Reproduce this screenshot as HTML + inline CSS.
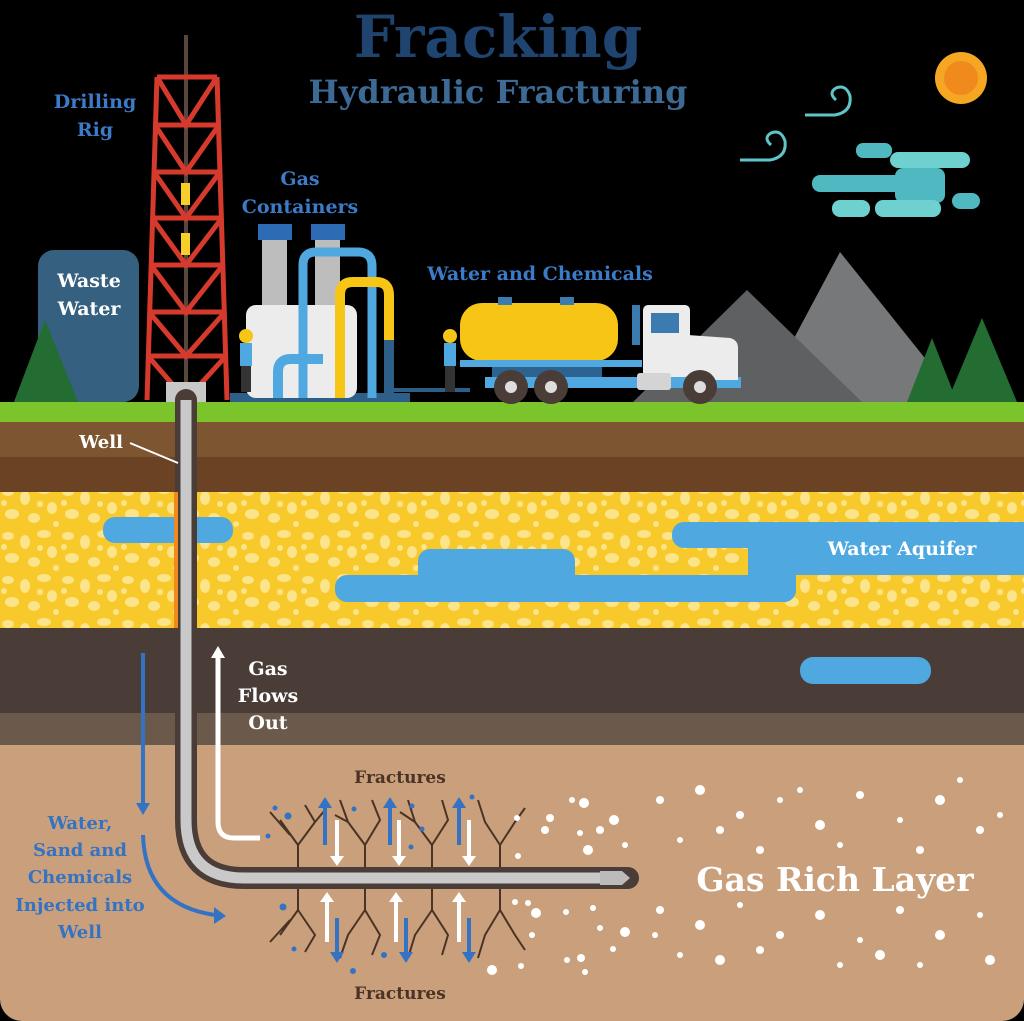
<!DOCTYPE html>
<html><head><meta charset="utf-8"><style>
html,body{margin:0;padding:0;background:#000}
svg{display:block}
text{font-family:"DejaVu Serif","Liberation Serif",serif;font-weight:bold}
</style></head><body>
<svg width="1024" height="1021" viewBox="0 0 1024 1021" xmlns="http://www.w3.org/2000/svg">
<defs>
<pattern id="peb" width="60" height="44" patternUnits="userSpaceOnUse">
<rect width="60" height="44" fill="#f7c92b"/>
<ellipse cx="8" cy="8" rx="6" ry="4" fill="#fbe48a"/>
<ellipse cx="25" cy="14" rx="5" ry="7" fill="#fbe48a"/>
<ellipse cx="44" cy="6" rx="7" ry="4" fill="#fbe48a"/>
<ellipse cx="52" cy="24" rx="5" ry="6" fill="#fbe48a"/>
<ellipse cx="12" cy="30" rx="7" ry="5" fill="#fbe48a"/>
<ellipse cx="34" cy="34" rx="6" ry="5" fill="#fbe48a"/>
<ellipse cx="40" cy="20" rx="3" ry="3" fill="#fbe48a"/>
<ellipse cx="4" cy="19" rx="3" ry="3" fill="#fbe48a"/>
<ellipse cx="56" cy="40" rx="3" ry="3" fill="#fbe48a"/>
</pattern>
<clipPath id="pg"><rect x="0" y="0" width="1024" height="1021" rx="22"/></clipPath>
</defs>
<rect width="1024" height="1021" fill="#000"/>
<g clip-path="url(#pg)">
<!-- ground layers -->
<rect x="0" y="402" width="1024" height="20" fill="#7cc42c"/>
<rect x="0" y="422" width="1024" height="35" fill="#7d5530"/>
<rect x="0" y="457" width="1024" height="35" fill="#6b4223"/>
<rect x="0" y="492" width="1024" height="136" fill="url(#peb)"/>
<rect x="0" y="628" width="1024" height="85" fill="#4a3c37"/>
<rect x="0" y="713" width="1024" height="32" fill="#6b5a4c"/>
<rect x="0" y="745" width="1024" height="276" fill="#c9a07b"/>
</g>
<!-- aquifer -->
<g fill="#4fa8e0">
<rect x="103" y="517" width="130" height="26" rx="12"/>
<rect x="335" y="575" width="122" height="27" rx="12"/>
<rect x="418" y="549" width="157" height="53" rx="12"/>
<rect x="506" y="575" width="290" height="27" rx="12"/>
<rect x="748" y="548" width="48" height="54" rx="12"/>
<rect x="748" y="522" width="290" height="53"/>
<rect x="672" y="522" width="360" height="26" rx="12"/>
<rect x="800" y="657" width="131" height="27" rx="13"/>
</g>
<text x="902" y="555" fill="#fff" font-size="19" text-anchor="middle">Water Aquifer</text>

<!-- mountains -->
<polygon points="840,252 960,402 760,402" fill="#77787a"/>
<polygon points="747,290 862,402 633,402" fill="#5f6062"/>
<!-- trees -->
<g fill="#236d33">
<polygon points="932,338 957,402 907,402"/>
<polygon points="982,318 1017,402 947,402"/>
<polygon points="45,320 78,402 14,402"/>
</g>
<!-- sun -->
<circle cx="961" cy="78" r="26" fill="#f5a623"/>
<circle cx="961" cy="78" r="17" fill="#f08a1d"/>
<!-- clouds -->
<g fill="#4fb8c0">
<rect x="856" y="143" width="36" height="15" rx="7"/>
<rect x="812" y="175" width="100" height="17" rx="8"/>
<rect x="890" y="152" width="80" height="16" rx="8" fill="#6fd0d0"/>
<rect x="895" y="168" width="50" height="35" rx="8"/>
<rect x="832" y="200" width="38" height="17" rx="8" fill="#6fd0d0"/>
<rect x="875" y="200" width="66" height="17" rx="8" fill="#6fd0d0"/>
<rect x="952" y="193" width="28" height="16" rx="8"/>
</g>
<g fill="none" stroke="#5ec6c8" stroke-width="3">
<path d="M805,115 L835,115 Q852,112 850,96 Q846,84 836,88 Q828,93 836,100"/>
<path d="M740,160 L770,160 Q787,157 785,141 Q781,129 771,133 Q763,138 771,145"/>
</g>
<!-- titles -->
<text x="498" y="57" fill="#1f4470" font-size="58" text-anchor="middle">Fracking</text>
<text x="498" y="103" fill="#3c6a94" font-size="32" text-anchor="middle">Hydraulic Fracturing</text>
<text x="95" y="108" fill="#3b7bc8" font-size="19" text-anchor="middle">Drilling</text>
<text x="95" y="136" fill="#3b7bc8" font-size="19" text-anchor="middle">Rig</text>
<text x="300" y="185" fill="#3b7bc8" font-size="19" text-anchor="middle">Gas</text>
<text x="300" y="213" fill="#3b7bc8" font-size="19" text-anchor="middle">Containers</text>
<text x="540" y="280" fill="#3b7bc8" font-size="19" text-anchor="middle">Water and Chemicals</text>

<!-- waste water tank -->
<rect x="38" y="250" width="101" height="152" rx="16" fill="#36607f"/>
<polygon points="45,320 78,402 14,402" fill="#236d33"/>
<text x="89" y="287" fill="#fff" font-size="19" text-anchor="middle">Waste</text>
<text x="89" y="315" fill="#fff" font-size="19" text-anchor="middle">Water</text>

<!-- rig -->
<line x1="186" y1="35" x2="186" y2="395" stroke="#5a463c" stroke-width="4"/>
<g stroke="#d63a2c" stroke-width="5" fill="none">
<line x1="157" y1="77" x2="147" y2="400"/>
<line x1="217" y1="77" x2="227" y2="400"/>
<line x1="157" y1="77" x2="217" y2="77"/>
<line x1="155" y1="125" x2="219" y2="125"/>
<line x1="154" y1="172" x2="220" y2="172"/>
<line x1="152" y1="218" x2="222" y2="218"/>
<line x1="151" y1="265" x2="223" y2="265"/>
<line x1="149" y1="312" x2="225" y2="312"/>
<line x1="148" y1="356" x2="226" y2="356"/>
<polyline points="157,77 186,125 217,77"/>
<polyline points="155,125 186,172 219,125"/>
<polyline points="154,172 186,218 220,172"/>
<polyline points="152,218 186,265 222,218"/>
<polyline points="151,265 186,312 223,265"/>
<polyline points="149,312 186,356 225,312"/>
<polyline points="148,356 186,400 226,356"/>
</g>
<rect x="181" y="183" width="9" height="22" fill="#f7cf2b"/>
<rect x="181" y="233" width="9" height="22" fill="#f7cf2b"/>
<rect x="166" y="382" width="40" height="20" fill="#c8c8c8"/>

<!-- gas containers -->
<rect x="230" y="393" width="180" height="9" fill="#2d5f88"/>
<rect x="262" y="240" width="25" height="68" fill="#bdbdbd"/>
<rect x="315" y="240" width="25" height="68" fill="#bdbdbd"/>
<rect x="258" y="224" width="34" height="16" fill="#2d6cb5"/>
<rect x="311" y="224" width="34" height="16" fill="#2d6cb5"/>
<rect x="246" y="305" width="111" height="93" rx="10" fill="#ececec"/>
<path d="M303,398 L303,265 Q303,252 316,252 L358,252 Q372,252 372,266 L372,398" fill="none" stroke="#4fa8e0" stroke-width="9"/>
<path d="M340,398 L340,295 Q340,282 353,282 L376,282 Q389,282 389,295 L389,340" fill="none" stroke="#f7c516" stroke-width="10"/>
<rect x="384" y="340" width="10" height="58" fill="#2d5f88"/>
<path d="M278,398 L278,372 Q278,359 291,359 L323,359" fill="none" stroke="#4fa8e0" stroke-width="10"/>
<line x1="394" y1="390" x2="470" y2="390" stroke="#2d5f88" stroke-width="4"/>
<!-- workers -->
<g>
<circle cx="246" cy="336" r="7" fill="#f7c516"/><rect x="240" y="343" width="12" height="23" fill="#4fa8e0"/><rect x="241" y="366" width="10" height="26" fill="#333"/>
<circle cx="450" cy="336" r="7" fill="#f7c516"/><rect x="444" y="343" width="12" height="23" fill="#4fa8e0"/><rect x="445" y="366" width="10" height="26" fill="#333"/>
</g>
<!-- truck -->
<rect x="460" y="303" width="158" height="58" rx="22" fill="#f7c516"/>
<rect x="498" y="297" width="14" height="8" fill="#3c7bb0"/>
<rect x="560" y="297" width="14" height="8" fill="#3c7bb0"/>
<rect x="460" y="360" width="182" height="7" fill="#4fa8e0"/>
<rect x="492" y="367" width="110" height="12" fill="#2d6390"/>
<rect x="485" y="377" width="256" height="11" fill="#4fa8e0"/>
<rect x="632" y="305" width="8" height="40" fill="#3c7bb0"/>
<rect x="643" y="305" width="47" height="72" rx="5" fill="#ececec"/>
<rect x="651" y="313" width="28" height="20" fill="#3c7bb0"/>
<path d="M688,335 L730,338 Q738,340 738,348 L738,380 L688,380 Z" fill="#ececec"/>
<rect x="637" y="373" width="34" height="17" rx="3" fill="#d4d4d4"/>
<g fill="#4a3c37"><circle cx="511" cy="387" r="17"/><circle cx="551" cy="387" r="17"/><circle cx="700" cy="387" r="17"/></g>
<g fill="#ddd"><circle cx="511" cy="387" r="6"/><circle cx="551" cy="387" r="6"/><circle cx="700" cy="387" r="6"/></g>

<!-- well -->
<path d="M186,400 L186,820 Q186,878 244,878 L628,878" fill="none" stroke="#4a3c37" stroke-width="22" stroke-linecap="round"/>
<path d="M186,400 L186,820 Q186,878 244,878 L612,878" fill="none" stroke="#c9c9c9" stroke-width="11"/>
<line x1="176" y1="492" x2="176" y2="628" stroke="#f08a1d" stroke-width="4"/>
<polygon points="600,871 622,871 630,878 622,885 600,885" fill="#bbb"/>
<text x="101" y="448" fill="#fff" font-size="18" text-anchor="middle">Well</text>
<line x1="130" y1="443" x2="178" y2="463" stroke="#fff" stroke-width="2"/>

<!-- arrows -->
<g fill="none" stroke="#fff" stroke-width="5">
<path d="M218,655 L218,822 Q218,838 234,838 L260,838"/>
</g>
<polygon points="211,658 218,646 225,658" fill="#fff"/>
<text x="268" y="675" fill="#fff" font-size="19" text-anchor="middle">Gas</text>
<text x="268" y="702" fill="#fff" font-size="19" text-anchor="middle">Flows</text>
<text x="268" y="729" fill="#fff" font-size="19" text-anchor="middle">Out</text>
<g fill="none" stroke="#3472c4" stroke-width="4">
<line x1="143" y1="653" x2="143" y2="805"/>
<path d="M143,835 Q145,905 215,915"/>
</g>
<polygon points="136,803 150,803 143,815" fill="#3472c4"/>
<polygon points="214,907 226,916 214,924" fill="#3472c4"/>
<g fill="#3472c4" font-size="18" text-anchor="middle">
<text x="80" y="829">Water,</text>
<text x="80" y="856">Sand and</text>
<text x="80" y="883">Chemicals</text>
<text x="80" y="911">Injected into</text>
<text x="80" y="938">Well</text>
</g>

<!-- fractures -->
<g stroke="#4a3326" stroke-width="2" fill="none">
<path d="M298,867 L298,845 L280,820 M298,845 L315,822 L305,805 M315,822 L325,810 M290,835 L270,812"/>
<path d="M365,867 L365,845 L348,822 L340,800 M365,845 L380,820 L372,800 M348,822 L335,815"/>
<path d="M432,867 L432,845 L415,822 L408,800 M432,845 L448,820 L442,800 M415,822 L400,812"/>
<path d="M500,867 L500,845 L485,822 L478,800 M500,845 L515,822 L525,808"/>
<path d="M298,889 L298,910 L280,935 M298,910 L315,935 L305,952 M290,920 L270,942"/>
<path d="M365,889 L365,910 L348,935 L340,958 M365,910 L380,935 L372,955"/>
<path d="M432,889 L432,910 L415,935 L408,958 M432,910 L448,935 L442,955"/>
<path d="M500,889 L500,910 L485,935 L478,958 M500,910 L515,935 L525,950"/>
</g>
<g stroke-width="4">
<g stroke="#3472c4"><line x1="325" y1="845" x2="325" y2="805"/><line x1="390" y1="845" x2="390" y2="805"/><line x1="459" y1="845" x2="459" y2="805"/>
<line x1="337" y1="918" x2="337" y2="955"/><line x1="406" y1="918" x2="406" y2="955"/><line x1="469" y1="918" x2="469" y2="955"/></g>
<g stroke="#fff"><line x1="337" y1="820" x2="337" y2="858"/><line x1="399" y1="820" x2="399" y2="858"/><line x1="469" y1="820" x2="469" y2="858"/>
<line x1="327" y1="900" x2="327" y2="942"/><line x1="396" y1="900" x2="396" y2="942"/><line x1="459" y1="900" x2="459" y2="942"/></g>
</g>
<g fill="#3472c4"><polygon points="318,808 325,797 332,808"/><polygon points="383,808 390,797 397,808"/><polygon points="452,808 459,797 466,808"/>
<polygon points="330,952 337,963 344,952"/><polygon points="399,952 406,963 413,952"/><polygon points="462,952 469,963 476,952"/></g>
<g fill="#fff"><polygon points="330,856 337,866 344,856"/><polygon points="392,856 399,866 406,856"/><polygon points="462,856 469,866 476,856"/>
<polygon points="320,902 327,892 334,902"/><polygon points="389,902 396,892 403,902"/><polygon points="452,902 459,892 466,902"/></g>
<g fill="#3472c4"><circle cx="275" cy="808" r="2.5"/><circle cx="288" cy="816" r="3.5"/><circle cx="268" cy="836" r="2.5"/><circle cx="354" cy="809" r="2.5"/><circle cx="412" cy="806" r="2.5"/><circle cx="422" cy="829" r="2.5"/><circle cx="411" cy="847" r="2.5"/><circle cx="472" cy="797" r="2.5"/><circle cx="283" cy="907" r="3.5"/><circle cx="294" cy="949" r="2.5"/><circle cx="353" cy="971" r="3"/><circle cx="384" cy="955" r="3"/></g>
<text x="400" y="783" fill="#4a3326" font-size="17" text-anchor="middle">Fractures</text>
<text x="400" y="999" fill="#4a3326" font-size="17" text-anchor="middle">Fractures</text>

<!-- gas bubbles -->
<g fill="#fff">
<circle cx="572" cy="800" r="3"/><circle cx="584" cy="803" r="5"/><circle cx="550" cy="818" r="4"/><circle cx="545" cy="830" r="4"/><circle cx="600" cy="830" r="4"/><circle cx="614" cy="820" r="5"/><circle cx="580" cy="833" r="3"/><circle cx="588" cy="850" r="5"/><circle cx="517" cy="818" r="3"/><circle cx="518" cy="856" r="3"/><circle cx="625" cy="845" r="3"/>
<circle cx="515" cy="902" r="3"/><circle cx="528" cy="903" r="3"/><circle cx="536" cy="913" r="5"/><circle cx="566" cy="912" r="3"/><circle cx="593" cy="908" r="3"/><circle cx="532" cy="935" r="3"/><circle cx="600" cy="928" r="3"/><circle cx="625" cy="932" r="5"/><circle cx="567" cy="960" r="3"/><circle cx="581" cy="958" r="4"/><circle cx="492" cy="970" r="5"/><circle cx="521" cy="966" r="3"/><circle cx="585" cy="972" r="3"/><circle cx="613" cy="949" r="3"/>
<circle cx="660" cy="800" r="4"/><circle cx="700" cy="790" r="5"/><circle cx="740" cy="815" r="4"/><circle cx="780" cy="800" r="3"/><circle cx="820" cy="825" r="5"/><circle cx="860" cy="795" r="4"/><circle cx="900" cy="820" r="3"/><circle cx="940" cy="800" r="5"/><circle cx="980" cy="830" r="4"/><circle cx="680" cy="840" r="3"/><circle cx="760" cy="850" r="4"/><circle cx="840" cy="845" r="3"/><circle cx="920" cy="850" r="4"/><circle cx="1000" cy="815" r="3"/><circle cx="720" cy="830" r="4"/><circle cx="800" cy="790" r="3"/><circle cx="960" cy="780" r="3"/>
<circle cx="660" cy="910" r="4"/><circle cx="700" cy="925" r="5"/><circle cx="740" cy="905" r="3"/><circle cx="780" cy="935" r="4"/><circle cx="820" cy="915" r="5"/><circle cx="860" cy="940" r="3"/><circle cx="900" cy="910" r="4"/><circle cx="940" cy="935" r="5"/><circle cx="980" cy="915" r="3"/><circle cx="680" cy="955" r="3"/><circle cx="720" cy="960" r="5"/><circle cx="760" cy="950" r="4"/><circle cx="840" cy="965" r="3"/><circle cx="880" cy="955" r="5"/><circle cx="920" cy="965" r="3"/><circle cx="990" cy="960" r="5"/><circle cx="655" cy="935" r="3"/>
</g>
<text x="835" y="891" fill="#fff" font-size="33" text-anchor="middle">Gas Rich Layer</text>
</svg>
</body></html>
